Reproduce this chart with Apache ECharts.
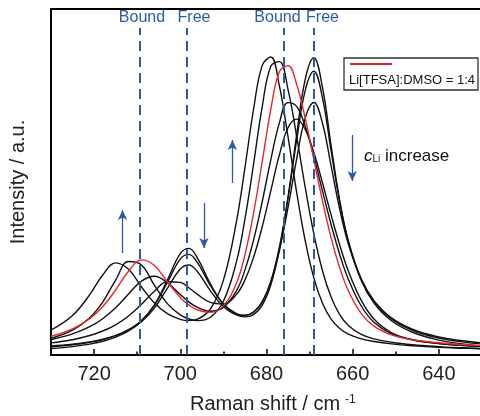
<!DOCTYPE html>
<html><head><meta charset="utf-8">
<script src="https://cdn.jsdelivr.net/npm/echarts@6/dist/echarts.min.js"></script>
<style>html,body{margin:0;padding:0;background:#fff}#c{width:480px;height:416px}</style>
</head><body><div id="c"></div>
<script>
// Raman shift sample positions (cm-1)
const ramanShift = [730, 725, 721, 718, 715, 712, 709, 706, 703, 700, 698, 696, 693, 690, 687, 685, 683, 681, 679, 677, 675, 673, 671, 669, 667, 665, 663, 661, 658, 655, 651, 646, 640, 635, 630];
// Intensities (a.u.), black spectra ordered by increasing c_Li
const spec1 = [6.4, 8.4, 10.9, 13.7, 17.8, 24.0, 34.0, 50.1, 74.9, 101.3, 106.6, 96.9, 71.1, 51.0, 40.4, 38.1, 40.4, 49.7, 70.0, 105.5, 157.5, 220.0, 275.7, 297.2, 267.5, 209.4, 154.7, 113.7, 74.5, 51.6, 34.2, 22.5, 14.9, 11.3, 8.9];
const spec2 = [8.2, 10.2, 12.7, 15.4, 19.3, 25.3, 34.6, 49.7, 72.5, 95.9, 100.6, 92.3, 69.3, 51.0, 41.5, 39.7, 42.7, 52.7, 73.2, 107.8, 156.9, 214.5, 264.6, 283.8, 257.1, 204.1, 152.9, 113.9, 75.9, 53.4, 36.1, 24.5, 17.0, 13.4, 10.9];
const spec3 = [9.0, 10.8, 13.1, 15.7, 19.3, 24.8, 33.4, 46.9, 66.6, 86.0, 90.0, 83.3, 64.2, 48.5, 40.4, 39.4, 42.9, 53.1, 72.9, 104.5, 147.3, 195.9, 237.1, 252.5, 231.8, 189.1, 145.7, 111.0, 75.6, 54.1, 37.2, 25.6, 18.1, 14.5, 12.1];
const spec4 = [12.1, 15.3, 19.5, 24.0, 30.2, 39.0, 50.7, 63.8, 73.2, 72.6, 67.3, 60.6, 52.6, 51.1, 60.4, 74.9, 97.6, 128.0, 164.0, 200.1, 227.3, 235.9, 225.5, 202.5, 172.2, 140.1, 110.0, 84.0, 54.6, 35.8, 22.5, 15.3, 11.5, 9.7, 8.4];
const spec5 = [15.5, 21.1, 28.3, 36.2, 47.2, 61.0, 73.9, 78.7, 72.3, 60.5, 53.1, 47.6, 43.7, 47.6, 63.9, 84.9, 114.8, 153.0, 195.1, 232.1, 252.4, 248.6, 228.7, 198.5, 164.2, 130.5, 100.5, 75.8, 49.0, 32.6, 21.2, 15.0, 11.5, 9.8, 8.5];
const specRed = [18.7, 26.2, 36.4, 48.3, 65.0, 83.8, 95.1, 89.5, 73.2, 57.6, 50.1, 45.0, 42.6, 49.1, 71.5, 100.2, 141.6, 192.9, 245.5, 283.3, 289.4, 270.7, 236.6, 195.4, 154.2, 117.4, 87.3, 64.2, 41.3, 28.6, 20.2, 15.3, 12.2, 10.5, 9.3];
const spec7 = [16.7, 24.8, 37.3, 52.9, 74.9, 93.5, 90.0, 69.7, 51.4, 40.1, 36.0, 34.4, 37.8, 53.7, 92.6, 135.8, 190.7, 247.8, 288.7, 293.4, 265.6, 218.9, 167.5, 121.1, 84.3, 57.9, 40.4, 29.5, 20.6, 16.1, 12.8, 10.3, 8.4, 7.2, 6.5];
const spec8 = [24.9, 39.5, 60.4, 80.0, 92.1, 85.7, 68.0, 51.9, 41.3, 35.6, 34.4, 35.8, 46.0, 74.6, 132.6, 187.2, 245.5, 289.4, 298.0, 269.1, 218.3, 162.9, 114.2, 77.1, 51.7, 35.8, 26.5, 20.9, 16.2, 13.5, 11.1, 9.2, 7.6, 6.8, 6.2];
const redLabel = 'Li[TFSA]:DMSO = 1:4';
// Tick labels
const xTickLabels = [720, 700, 680, 660, 640];
// Reference band positions (dashed lines) and their labels
const bandPositions = [709.35, 698.4, 675.9, 669.1];
const bandLabels = ['Bound', 'Free', 'Bound', 'Free'];
const bandTop = 327;
// Arrows: x position, start and end intensity
const arrowX = [713.4, 694.5, 687.9, 660.1];
const arrowFrom = [102, 152, 172, 220];
const arrowTo = [145, 107, 215, 174];

const FONT = '"Liberation Sans", Arial, sans-serif';
const BLUE = '#2b5ba8';
const RED = '#e8262b';

const blackSpectra = [spec1, spec2, spec3, spec4, spec5, spec7, spec8];
const toPairs = arr => ramanShift.map((x, i) => [x, arr[i]]);

const markData = [];
bandPositions.forEach(x => {
  markData.push([{coord: [x, 0], symbol: 'none', lineStyle: {color: BLUE, width: 2, type: [10, 6]}}, {coord: [x, bandTop], symbol: 'none'}]);
});
arrowX.forEach((x, i) => {
  markData.push([{coord: [x, arrowFrom[i]], symbol: 'none', lineStyle: {color: BLUE, width: 1.3, type: 'solid'}}, {coord: [x, arrowTo[i]], symbol: 'arrow', symbolSize: [7, 10]}]);
});

const series = blackSpectra.map((arr, k) => ({
  type: 'line', name: 'spectrum ' + (k + 1), data: toPairs(arr),
  symbol: 'none', showSymbol: false, smooth: 0.4,
  lineStyle: {color: '#111', width: 1.4}, z: 2
}));
series.push({type: 'line', name: redLabel, data: toPairs(specRed), symbol: 'none', showSymbol: false, smooth: 0.4, lineStyle: {color: RED, width: 1.4}, z: 3});
series[0].markLine = {silent: true, animation: false, symbol: ['none', 'none'], label: {show: false}, data: markData, z: 6};

const bandLabelX = [142, 194, 277.5, 322.5];
const graphics = bandLabels.map((t, i) => ({
  type: 'text', x: bandLabelX[i], y: 18, z: 10,
  style: {text: t, fill: BLUE, font: '16px ' + FONT, textAlign: 'center', textVerticalAlign: 'middle', align: 'center', verticalAlign: 'middle'}
}));
graphics.push({
  type: 'text', x: 364, y: 156, z: 10,
  style: {text: '{c|c}{sub|Li}{t| increase}', fill: '#111', textAlign: 'left', textVerticalAlign: 'middle', align: 'left', verticalAlign: 'middle',
    rich: {c: {fontSize: 17, fontStyle: 'italic', fontFamily: FONT, fill: '#111'}, sub: {fontSize: 10, fontFamily: FONT, verticalAlign: 'bottom', fill: '#111'}, t: {fontSize: 17, fontFamily: FONT, fill: '#111'}}}
});
graphics.push({
  type: 'text', x: 190, y: 404, z: 10,
  style: {text: '{a|Raman shift / cm}{s|-1}', fill: '#222', textAlign: 'left', textVerticalAlign: 'middle', align: 'left', verticalAlign: 'middle',
    rich: {a: {fontSize: 20, fontFamily: FONT, fill: '#222'}, s: {fontSize: 12, fontFamily: FONT, verticalAlign: 'top', padding: [0, 0, 0, 5], fill: '#222'}}}
});
graphics.push({type: 'rect', z: 10, shape: {x: 344, y: 58, width: 134, height: 32}, style: {fill: '#fff', stroke: '#333', lineWidth: 1.3}});
graphics.push({type: 'line', z: 11, shape: {x1: 350, y1: 64, x2: 392, y2: 64}, style: {stroke: RED, lineWidth: 2}});
graphics.push({type: 'text', z: 11, x: 349, y: 80.5, style: {text: redLabel, fill: '#111', font: '13px ' + FONT, textAlign: 'left', textVerticalAlign: 'middle', align: 'left', verticalAlign: 'middle'}});

const chart = echarts.init(document.getElementById('c'), null, {renderer: 'canvas'});
chart.setOption({
  animation: false,
  backgroundColor: '#fff',
  grid: {left: 51, top: 9, width: 474, height: 346, show: true, borderColor: '#000', borderWidth: 2, backgroundColor: 'transparent', outerBoundsMode: 'none', containLabel: false},
  xAxis: [
    {type: 'value', inverse: true, min: 620, max: 730, interval: 20, position: 'bottom', offset: 0,
      axisLine: {show: true, onZero: false, lineStyle: {color: '#000', width: 2}},
      axisTick: {show: true, inside: true, length: 6, lineStyle: {color: '#000', width: 1.5}},
      axisLabel: {margin: 9, fontSize: 20, color: '#222', fontFamily: FONT, formatter: v => xTickLabels.includes(v) ? String(v) : ''},
      splitLine: {show: false}},
    {type: 'value', inverse: true, min: 620, max: 730, interval: 10, position: 'bottom', offset: 0,
      axisLine: {show: false, onZero: false},
      axisTick: {show: true, inside: true, length: 3.5, lineStyle: {color: '#000', width: 1.5}},
      axisLabel: {show: false}, splitLine: {show: false}}
  ],
  yAxis: {type: 'value', min: 0, max: 346,
    axisLine: {show: true, onZero: false, lineStyle: {color: '#000', width: 2}},
    axisTick: {show: false}, axisLabel: {show: false}, splitLine: {show: false},
    name: 'Intensity / a.u.', nameLocation: 'middle', nameGap: 23,
    nameTextStyle: {fontSize: 20, color: '#222', fontFamily: FONT}},
  series: series,
  graphic: graphics
});
</script></body></html>
